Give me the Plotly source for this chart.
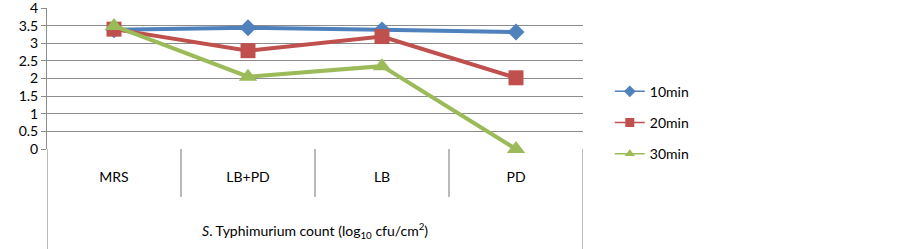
import plotly.graph_objects as go

categories = ["MRS", "LB+PD", "LB", "PD"]
series_names = ["10min", "20min", "30min"]
v10 = [3.38, 3.44, 3.38, 3.32]
v20 = [3.40, 2.79, 3.19, 2.02]
v30 = [3.49, 2.05, 2.35, 0.0]
y_max = 4
y_step = 0.5
x_title = "<i>S</i>. Typhimurium count (log<sub>10</sub> cfu/cm<sup>2</sup>)"

colors = ["#4F81BD", "#C0504D", "#9BBB59"]
symbols = ["diamond", "square", "triangle-up"]
msizes = [13, 15, 16]
FONT = "Lato"

xs = list(range(len(categories)))
fig = go.Figure()
for name, vals, c, s, ms in zip(series_names, [v10, v20, v30], colors, symbols, msizes):
    fig.add_trace(go.Scatter(x=xs, y=vals, mode="lines+markers", name=name,
                             line=dict(color=c, width=4),
                             marker=dict(symbol=s, size=ms, color=c),
                             showlegend=False, cliponaxis=False))
for i, (name, c, s) in enumerate(zip(series_names, colors, symbols)):
    fig.add_trace(go.Scatter(x=[None], y=[None], mode="lines+markers", name=name,
                             line=dict(color=c, width=1.5),
                             marker=dict(symbol=s, size=9, color=c),
                             legendgroup=name))

fig.update_layout(
    width=899, height=249,
    margin=dict(l=47, r=316, t=8, b=100, autoexpand=False),
    paper_bgcolor="white", plot_bgcolor="white",
    font=dict(family=FONT, size=14, color="black"),
    xaxis=dict(range=[-0.5, 3.5], tickvals=xs, ticktext=categories,
               showgrid=False, zeroline=False, ticks="", showline=False,
               automargin=False,
               ticklabelstandoff=18, tickfont=dict(size=14)),
    yaxis=dict(range=[0, y_max], tickmode="linear", tick0=0, dtick=y_step,
               showgrid=True, gridcolor="#8C8C8C", ticklabeloverflow="allow",
               automargin=False,
               gridwidth=1, zeroline=False, showline=True, linecolor="#8C8C8C",
               ticks="outside", ticklen=5, tickcolor="#8C8C8C",
               tickfont=dict(size=14)),
    legend=dict(x=1.05, xanchor="left", y=0.52, yanchor="top",
                tracegroupgap=10, font=dict(size=14),
                bgcolor="rgba(0,0,0,0)"),
    showlegend=True,
)

shapes = []
plot_h = 141.0
bottom_px = 149
inner = -(197 - bottom_px) / plot_h
outer = -(249 - bottom_px) / plot_h
for i in range(len(categories) + 1):
    xv = -0.5 + i
    y1 = outer if i in (0, len(categories)) else inner
    shapes.append(dict(type="line", xref="x", yref="paper", x0=xv, x1=xv,
                       y0=0, y1=y1, line=dict(color="#8C8C8C", width=1.2)))
fig.update_layout(shapes=shapes)

fig.add_annotation(x=0.5, xref="paper", y=-(230 - bottom_px) / plot_h, yref="paper",
                   text=x_title, showarrow=False, font=dict(size=14, family=FONT),
                   xanchor="center", yanchor="middle")

fig.write_html("out.html", config={"displayModeBar": False},
               post_script="document.body.style.margin='0';document.body.style.overflow='hidden';")
